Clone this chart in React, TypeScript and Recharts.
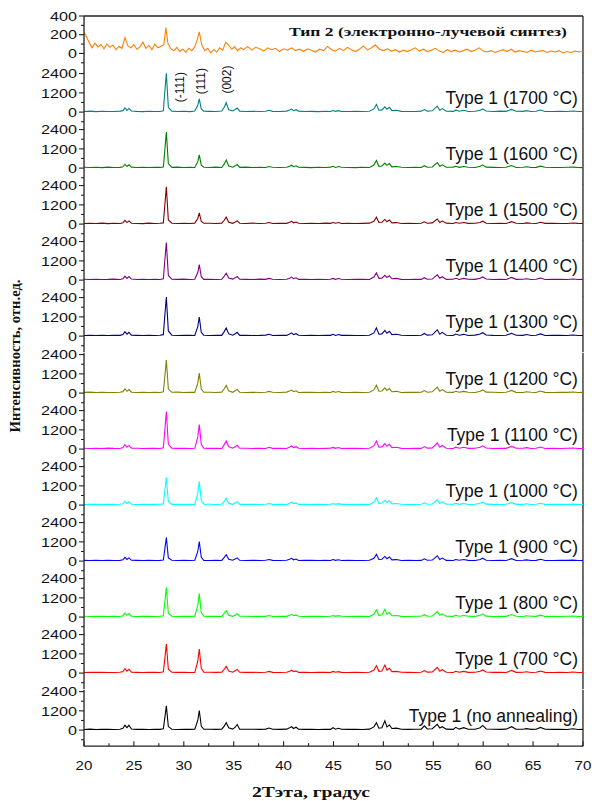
import { LineChart, Line, XAxis, YAxis, ReferenceDot, ReferenceLine } from 'recharts';

// 2θ grid shared by the Type 1 patterns
const twoTheta = [
  20.0, 20.6, 21.2, 21.8, 22.4, 23.0, 23.6, 23.9, 24.1, 24.3,
  24.5, 24.75, 25.3, 25.9, 26.5, 27.1, 27.6, 27.95, 28.1, 28.25,
  28.45, 28.8, 29.4, 30.0, 30.6, 31.1, 31.4, 31.55, 31.75, 32.0,
  32.6, 33.2, 33.8, 34.05, 34.25, 34.5, 34.9, 35.15, 35.35, 35.6,
  36.2, 36.9, 37.6, 38.2, 38.55, 38.9, 39.6, 40.3, 40.6, 40.8,
  41.0, 41.25, 41.5, 42.1, 42.8, 43.5, 44.2, 44.7, 44.95, 45.2,
  45.5, 45.8, 46.5, 47.2, 47.9, 48.6, 49.05, 49.3, 49.55, 49.85,
  50.15, 50.35, 50.6, 50.85, 51.3, 51.8, 52.5, 53.2, 53.8, 54.1,
  54.4, 54.9, 55.4, 55.65, 55.9, 56.3, 57.0, 57.25, 57.6, 58.05,
  58.5, 59.2, 59.7, 59.95, 60.3, 61.0, 61.7, 62.3, 62.85, 63.3,
  64.0, 64.35, 64.8, 65.3, 65.75, 66.2, 67.0, 67.7, 68.4, 69.0,
  69.5, 70.0,
];

const t1700 = [
  40, 60, 30, 55, 40, 35, 60, 90, 260, 110,
  230, 70, 45, 30, 55, 40, 35, 80, 1300, 2420,
  300, 60, 40, 55, 30, 70, 420, 830, 200, 60,
  45, 35, 70, 300, 580, 150, 70, 160, 250, 60,
  40, 55, 35, 50, 110, 45, 40, 60, 130, 190,
  90, 150, 60, 35, 45, 30, 50, 40, 100, 45,
  90, 40, 35, 55, 40, 50, 200, 480, 120, 140,
  330, 180, 300, 90, 110, 45, 40, 35, 60, 160,
  60, 80, 375, 120, 220, 55, 45, 120, 50, 110,
  40, 55, 120, 200, 70, 40, 60, 45, 170, 50,
  45, 90, 40, 50, 130, 40, 35, 50, 40, 70,
  35, 40,
];

const t1600 = [
  55, 35, 50, 30, 60, 40, 45, 85, 240, 100,
  210, 60, 40, 55, 35, 50, 45, 70, 1150, 2250,
  280, 45, 60, 35, 50, 40, 400, 820, 180, 55,
  40, 60, 35, 260, 500, 130, 55, 140, 220, 45,
  60, 35, 50, 40, 100, 55, 35, 50, 120, 180,
  85, 140, 50, 45, 30, 55, 40, 60, 110, 40,
  100, 55, 40, 30, 50, 40, 190, 470, 110, 130,
  310, 170, 280, 80, 100, 50, 35, 55, 40, 150,
  55, 70, 340, 110, 200, 50, 60, 110, 45, 100,
  55, 40, 110, 190, 60, 45, 35, 55, 160, 40,
  50, 80, 35, 45, 120, 55, 40, 35, 55, 60,
  40, 30,
];

const t1500 = [
  40, 55, 35, 60, 30, 50, 40, 80, 230, 95,
  200, 55, 40, 30, 60, 35, 50, 75, 1200, 2330,
  260, 55, 35, 50, 40, 60, 350, 700, 160, 50,
  55, 40, 60, 240, 430, 120, 50, 130, 200, 55,
  35, 60, 40, 55, 95, 40, 50, 45, 110, 170,
  80, 130, 55, 40, 50, 35, 60, 45, 100, 50,
  95, 40, 55, 35, 45, 60, 180, 430, 100, 120,
  290, 150, 260, 75, 95, 40, 55, 35, 50, 140,
  50, 75, 320, 100, 190, 60, 40, 100, 55, 95,
  45, 55, 100, 180, 55, 40, 50, 35, 150, 55,
  40, 75, 50, 35, 110, 45, 55, 40, 35, 65,
  45, 35,
];

const t1400 = [
  50, 35, 55, 40, 45, 60, 35, 90, 250, 105,
  220, 65, 35, 50, 40, 55, 40, 85, 1250, 2340,
  290, 50, 45, 60, 35, 55, 470, 970, 210, 45,
  50, 35, 55, 250, 430, 130, 60, 140, 220, 50,
  45, 35, 60, 45, 105, 50, 35, 55, 120, 185,
  85, 140, 45, 55, 35, 50, 40, 55, 105, 45,
  95, 50, 35, 45, 55, 40, 190, 450, 110, 125,
  300, 160, 270, 85, 105, 45, 40, 55, 45, 150,
  55, 65, 330, 110, 210, 45, 55, 115, 40, 105,
  50, 45, 115, 195, 65, 35, 55, 40, 165, 45,
  55, 85, 40, 50, 125, 35, 45, 55, 40, 65,
  35, 45,
];

const t1300 = [
  35, 55, 40, 50, 35, 55, 45, 95, 270, 120,
  240, 60, 45, 35, 50, 40, 55, 90, 1300, 2440,
  320, 55, 40, 50, 45, 35, 590, 1190, 240, 55,
  40, 55, 45, 280, 500, 140, 55, 150, 240, 45,
  55, 40, 45, 60, 110, 40, 55, 45, 130, 200,
  95, 150, 55, 40, 50, 35, 55, 45, 110, 40,
  100, 45, 55, 40, 35, 55, 200, 520, 120, 140,
  350, 180, 300, 90, 115, 50, 40, 35, 55, 165,
  60, 80, 390, 120, 230, 50, 40, 125, 55, 110,
  40, 60, 125, 210, 70, 45, 35, 55, 175, 50,
  45, 95, 35, 55, 135, 40, 50, 45, 35, 70,
  40, 35,
];

const t1200 = [
  45, 60, 35, 55, 40, 35, 55, 90, 260, 110,
  220, 55, 40, 55, 35, 50, 40, 80, 1050, 2060,
  270, 50, 60, 40, 55, 45, 620, 1250, 250, 50,
  55, 40, 60, 270, 480, 140, 50, 145, 230, 55,
  40, 55, 35, 50, 105, 55, 40, 60, 125, 190,
  90, 145, 40, 55, 45, 35, 50, 40, 105, 50,
  95, 45, 40, 55, 35, 50, 200, 490, 115, 135,
  330, 170, 290, 85, 110, 40, 55, 45, 50, 155,
  55, 80, 370, 115, 215, 50, 45, 115, 55, 105,
  50, 40, 120, 200, 60, 55, 40, 50, 165, 45,
  40, 85, 50, 40, 125, 45, 35, 55, 45, 65,
  35, 45,
];

const t1100 = [
  50, 40, 55, 35, 60, 45, 40, 95, 270, 115,
  230, 60, 50, 35, 45, 55, 40, 85, 1200, 2340,
  300, 55, 45, 55, 40, 50, 760, 1530, 300, 55,
  45, 55, 40, 280, 500, 145, 55, 150, 240, 50,
  55, 40, 55, 35, 110, 45, 55, 40, 130, 195,
  95, 150, 50, 40, 55, 40, 45, 55, 105, 45,
  100, 40, 55, 45, 40, 55, 200, 500, 120, 140,
  340, 175, 300, 90, 115, 45, 40, 55, 45, 160,
  60, 75, 380, 115, 225, 55, 40, 120, 50, 110,
  45, 55, 120, 205, 65, 40, 55, 45, 170, 50,
  50, 90, 40, 50, 130, 40, 50, 35, 50, 70,
  40, 40,
];

const t1000 = [
  40, 55, 45, 35, 55, 40, 50, 85, 240, 105,
  210, 55, 40, 50, 35, 45, 50, 75, 880, 1720,
  230, 45, 55, 40, 50, 35, 730, 1470, 290, 50,
  50, 40, 55, 240, 420, 120, 50, 135, 210, 45,
  45, 55, 40, 50, 100, 40, 55, 35, 115, 180,
  85, 135, 45, 50, 40, 55, 35, 50, 100, 40,
  90, 45, 50, 35, 55, 40, 180, 450, 105, 125,
  300, 160, 270, 80, 100, 50, 40, 35, 55, 145,
  55, 70, 340, 105, 200, 50, 55, 105, 45, 95,
  40, 50, 110, 185, 60, 45, 40, 55, 155, 45,
  45, 80, 40, 55, 115, 35, 45, 50, 40, 60,
  35, 40,
];

const t900 = [
  45, 35, 50, 40, 55, 35, 45, 80, 230, 100,
  200, 50, 45, 35, 55, 40, 45, 70, 760, 1470,
  200, 50, 40, 55, 35, 50, 600, 1220, 240, 45,
  40, 55, 40, 230, 400, 115, 55, 130, 200, 50,
  40, 50, 35, 55, 95, 45, 40, 50, 110, 170,
  80, 130, 40, 50, 45, 35, 55, 40, 95, 45,
  85, 40, 55, 40, 35, 50, 170, 420, 100, 120,
  290, 150, 260, 80, 95, 40, 50, 35, 45, 140,
  50, 65, 330, 100, 190, 45, 40, 100, 50, 95,
  45, 40, 105, 180, 55, 40, 50, 35, 150, 40,
  50, 75, 35, 45, 110, 40, 35, 50, 45, 60,
  40, 35,
];

const t800 = [
  50, 40, 55, 45, 35, 55, 40, 90, 250, 110,
  220, 55, 40, 50, 45, 35, 55, 80, 940, 1840,
  240, 55, 40, 50, 45, 55, 730, 1470, 290, 50,
  45, 50, 40, 230, 400, 120, 50, 135, 215, 55,
  50, 40, 55, 45, 100, 40, 50, 45, 115, 175,
  85, 135, 50, 40, 55, 45, 40, 55, 100, 45,
  90, 50, 40, 55, 45, 35, 180, 440, 105, 130,
  480, 180, 290, 85, 100, 45, 40, 55, 50, 150,
  55, 70, 350, 110, 200, 55, 45, 110, 50, 100,
  50, 45, 110, 190, 60, 40, 55, 45, 160, 50,
  40, 80, 50, 45, 120, 40, 45, 35, 50, 65,
  35, 45,
];

const t700 = [
  40, 55, 45, 50, 40, 35, 55, 95, 270, 120,
  240, 60, 45, 35, 50, 45, 40, 80, 920, 1810,
  240, 50, 45, 55, 40, 45, 740, 1500, 300, 55,
  50, 45, 55, 240, 420, 125, 55, 150, 230, 50,
  45, 55, 40, 50, 105, 45, 40, 55, 120, 180,
  90, 140, 45, 55, 40, 50, 45, 40, 105, 50,
  90, 45, 40, 50, 40, 55, 190, 460, 110, 130,
  500, 190, 300, 90, 110, 50, 45, 40, 55, 160,
  60, 75, 360, 110, 210, 50, 40, 115, 55, 105,
  45, 50, 115, 195, 65, 45, 50, 40, 165, 45,
  50, 85, 40, 50, 125, 45, 40, 55, 40, 70,
  40, 35,
];

const tNone = [
  40, 60, 35, 55, 45, 40, 50, 110, 300, 150,
  300, 70, 45, 55, 40, 50, 45, 80, 780, 1510,
  220, 55, 40, 50, 45, 55, 600, 1220, 250, 55,
  50, 45, 60, 250, 460, 140, 60, 180, 350, 60,
  50, 55, 45, 60, 130, 50, 45, 60, 140, 210,
  100, 180, 60, 45, 55, 40, 50, 45, 150, 55,
  110, 50, 45, 55, 40, 60, 200, 460, 120, 150,
  580, 200, 320, 100, 120, 50, 45, 55, 60, 270,
  70, 85, 360, 130, 210, 60, 45, 170, 60, 150,
  55, 50, 150, 290, 70, 55, 45, 60, 210, 55,
  50, 90, 45, 55, 170, 50, 45, 55, 40, 80,
  40, 45,
];

// Type 2 (electron-beam synthesis) has its own, finer grid
const type2Theta = [
  20.0, 20.2, 20.5, 20.8, 21.1, 21.4, 21.7, 22.0, 22.3, 22.6,
  22.9, 23.2, 23.5, 23.8, 24.1, 24.4, 24.7, 25.0, 25.3, 25.6,
  25.9, 26.2, 26.5, 26.8, 27.1, 27.4, 27.7, 28.0, 28.2, 28.4,
  28.7, 29.0, 29.3, 29.6, 29.9, 30.2, 30.5, 30.8, 31.1, 31.35,
  31.55, 31.8, 32.1, 32.4, 32.7, 33.0, 33.3, 33.6, 33.9, 34.2,
  34.5, 34.8, 35.1, 35.4, 35.7, 36.0, 36.4, 36.8, 37.2, 37.6,
  38.0, 38.4, 38.8, 39.2, 39.6, 40.0, 40.4, 40.8, 41.2, 41.6,
  42.0, 42.4, 42.8, 43.2, 43.6, 44.0, 44.4, 44.8, 45.2, 45.6,
  46.0, 46.4, 46.8, 47.2, 47.6, 48.0, 48.4, 48.8, 49.2, 49.6,
  50.0, 50.4, 50.8, 51.2, 51.6, 52.0, 52.4, 52.8, 53.2, 53.6,
  54.0, 54.4, 54.8, 55.2, 55.6, 56.0, 56.4, 56.8, 57.2, 57.6,
  58.0, 58.4, 58.8, 59.2, 59.6, 60.0, 60.4, 60.8, 61.2, 61.6,
  62.0, 62.4, 62.8, 63.2, 63.6, 64.0, 64.4, 64.8, 65.2, 65.6,
  66.0, 66.4, 66.8, 67.2, 67.6, 68.0, 68.4, 68.8, 69.2, 69.6,
  70.0,
];

const type2Counts = [
  230, 190, 120, 60, 110, 70, 95, 50, 100, 65,
  90, 40, 75, 55, 170, 80, 60, 95, 45, 70,
  120, 55, 85, 40, 100, 60, 75, 95, 275, 110,
  50, 30, 65, 20, 45, 10, 55, 30, 70, 150,
  230, 90, 30, 55, 5, 40, 15, 60, 35, 120,
  90, 45, 70, 30, 60, 40, 75, 35, 65, 50,
  25, 60, 40, 55, 20, 50, 35, 60, 30, 45,
  20, 50, 35, 15, 45, 30, 75, 40, 25, 55,
  30, 65, 40, 20, 45, 80, 35, 60, 90, 45,
  30, 50, 25, 40, 15, 35, 20, 40, 60, 25,
  45, 20, 35, 55, 25, 10, 40, 20, 35, 15,
  30, 45, 20, 35, 60, 25, 15, 30, 10, 25,
  40, 20, 45, 15, 30, 20, 10, 35, 15, 25,
  30, 10, 25, 15, 30, 5, 20, 10, 25, 15,
  20,
];

const xTicks = [20, 22.5, 25, 27.5, 30, 32.5, 35, 37.5, 40, 42.5, 45, 47.5, 50, 52.5, 55, 57.5, 60, 62.5, 65, 67.5, 70];
const type1Ticks = [-600, 0, 600, 1200, 1800, 2400];
const type2Ticks = [-100, 0, 100, 200, 300, 400];

const peakNotes = [
  { label: '(-111)', x: 29.55, y: 1560 },
  { label: '(111)', x: 31.72, y: 1930 },
  { label: '(002)', x: 34.33, y: 2025 },
];

const type1Series = [
  { name: 'Type 1 (1700 °C)', color: '#008080', counts: t1700 },
  { name: 'Type 1 (1600 °C)', color: '#008000', counts: t1600 },
  { name: 'Type 1 (1500 °C)', color: '#800000', counts: t1500 },
  { name: 'Type 1 (1400 °C)', color: '#800080', counts: t1400 },
  { name: 'Type 1 (1300 °C)', color: '#000080', counts: t1300 },
  { name: 'Type 1 (1200 °C)', color: '#808000', counts: t1200 },
  { name: 'Type 1 (1100 °C)', color: '#FF00FF', counts: t1100 },
  { name: 'Type 1 (1000 °C)', color: '#00FFFF', counts: t1000 },
  { name: 'Type 1 (900 °C)', color: '#0000FF', counts: t900 },
  { name: 'Type 1 (800 °C)', color: '#00FF00', counts: t800 },
  { name: 'Type 1 (700 °C)', color: '#FF0000', counts: t700 },
  { name: 'Type 1 (no annealing)', color: '#000000', counts: tNone },
];

const PLOT_LEFT = 84;
const PLOT_RIGHT = 583;
const PLOT_TOP = 15.7;
const PANEL_H = 56.15;
const PAD = 14;
const XAXIS_H = 56;
const AXIS = '#222';
const SANS = 'Liberation Sans, Arial, sans-serif';
const SERIF = 'Liberation Serif, Times New Roman, serif';

function YTick({ x, y, payload, step }: any) {
  const v = payload.value;
  const major = v >= 0 && v % step === 0;
  return (
    <g>
      <line x1={x - (major ? 5 : 3)} x2={x} y1={y} y2={y} stroke={AXIS} strokeWidth={1.1} />
      {major && (
        <text x={x - 7} y={y} dy="0.36em" textAnchor="end" fontSize={13} fontFamily={SANS} fill="#111"
          textLength={String(v).length * 9} lengthAdjust="spacingAndGlyphs">
          {v}
        </text>
      )}
    </g>
  );
}

function XTick({ x, y, payload }: any) {
  const v = payload.value;
  const major = v % 5 === 0;
  return (
    <g>
      <line x1={x} x2={x} y1={y} y2={y - (major ? 5 : 3)} stroke={AXIS} strokeWidth={1.1} />
      {major && (
        <text x={x} y={y + 24} textAnchor="middle" fontSize={13} fontFamily={SANS} fill="#111"
          textLength={String(v).length * 8.4} lengthAdjust="spacingAndGlyphs">
          {v}
        </text>
      )}
    </g>
  );
}

type PanelProps = {
  index: number;
  theta: number[];
  counts: number[];
  color: string;
  domain: [number, number];
  ticks: number[];
  step: number;
  first?: boolean;
  last?: boolean;
  label: (p: any) => any;
  notes?: boolean;
};

function Panel({ index, theta, counts, color, domain, ticks, step, first, last, label, notes }: PanelProps) {
  const rows = theta.map((t, i) => ({ t, v: counts[i] }));
  const height = PAD + PANEL_H + (last ? XAXIS_H : PAD);
  const frame = { stroke: AXIS, strokeWidth: 1.3 };
  return (
    <div style={{ position: 'absolute', left: 0, top: PLOT_TOP + index * PANEL_H - PAD }}>
      <LineChart width={592} height={height} data={rows}
        margin={{ top: PAD, right: 592 - PLOT_RIGHT, bottom: last ? 0 : PAD, left: PLOT_LEFT - 1 }}>
        {last ? (
          <XAxis dataKey="t" type="number" domain={[20, 70]} ticks={xTicks} interval={0}
            height={XAXIS_H} tickSize={0} tickMargin={0} tickLine={false}
            axisLine={frame} tick={<XTick />} allowDataOverflow />
        ) : (
          <XAxis dataKey="t" type="number" domain={[20, 70]} hide axisLine={false} tick={false} allowDataOverflow />
        )}
        <YAxis type="number" domain={domain} ticks={ticks} interval={0} width={1} tickSize={0} tickMargin={0}
          tickLine={false} axisLine={frame} tick={<YTick step={step} />} allowDataOverflow />
        {first && <ReferenceLine y={domain[1]} stroke={AXIS} strokeWidth={1.3} ifOverflow="visible" />}
        <ReferenceLine x={70} stroke={AXIS} strokeWidth={1.3} ifOverflow="visible" />
        <Line dataKey="v" stroke={color} strokeWidth={1.1} dot={false} isAnimationActive={false} />
        <ReferenceDot x={70} y={0} r={0} ifOverflow="visible" shape={label} />
        {notes && peakNotes.map((n) => (
          <ReferenceDot key={n.label} x={n.x} y={n.y} r={0} ifOverflow="visible"
            shape={(p: any) => (
              <text transform={`translate(${p.cx},${p.cy}) rotate(-90)`} textAnchor="middle" dy="0.36em"
                fontSize={12} fontFamily={SANS} fill="#111">
                {n.label}
              </text>
            )} />
        ))}
      </LineChart>
    </div>
  );
}

export default function App() {
  return (
    <div style={{ position: 'absolute', left: 0, top: 0, width: 592, height: 801, background: '#fff' }}>
      <Panel index={0} theta={type2Theta} counts={type2Counts} color="#FF8000" domain={[-200, 400]}
        ticks={type2Ticks} step={200} first
        label={(p: any) => (
          <text x={p.cx - 16} y={p.cy - 17} textAnchor="end" fontSize={13} fontWeight="bold" fontFamily={SERIF}
            fill="#111" textLength={278} lengthAdjust="spacingAndGlyphs">
            Тип 2 (электронно-лучевой синтез)
          </text>
        )} />
      {type1Series.map((s, i) => (
        <Panel key={s.name} index={i + 1} theta={twoTheta} counts={s.counts} color={s.color}
          domain={[-1000, 2500]} ticks={type1Ticks} step={1200} last={i === type1Series.length - 1}
          notes={i === 0}
          label={(p: any) => (
            <text x={p.cx - 5} y={p.cy - 8.5} textAnchor="end" fontSize={17.5} fontFamily={SANS} fill="#111">
              {s.name}
            </text>
          )} />
      ))}
      <svg width={592} height={801} style={{ position: 'absolute', left: 0, top: 0, pointerEvents: 'none' }}>
        <text transform="translate(15,356) rotate(-90)" textAnchor="middle" dy="0.36em" fontSize={14.5}
          fontWeight="bold" fontFamily={SERIF} fill="#111" textLength={153} lengthAdjust="spacingAndGlyphs">
          Интенсивность, отн.ед.
        </text>
        <text x={252} y={797} fontSize={15} fontWeight="bold" fontFamily={SERIF} fill="#111"
          textLength={118} lengthAdjust="spacingAndGlyphs">
          2Тэта, градус
        </text>
      </svg>
    </div>
  );
}
